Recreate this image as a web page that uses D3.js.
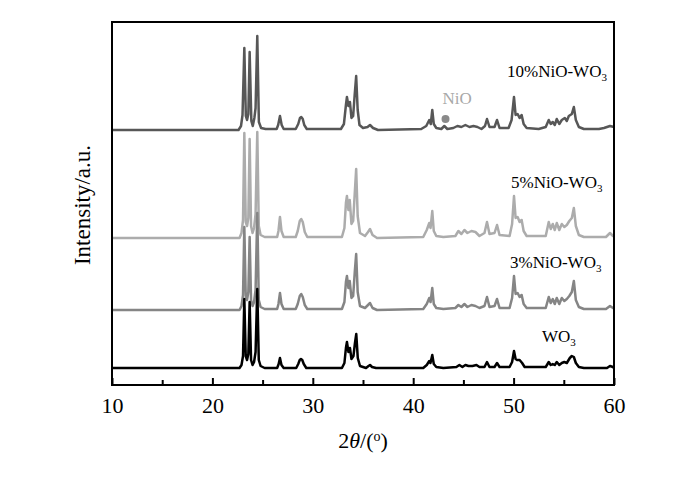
<!DOCTYPE html>
<html><head><meta charset="utf-8">
<script src="https://cdn.jsdelivr.net/npm/d3@7"></script>
<style>
html,body{margin:0;padding:0;background:#fff;}
svg{display:block;font-family:"Liberation Serif","Times New Roman",serif;}
</style></head>
<body><svg id="chart" width="700" height="481"></svg>
<script>
// ---- data (2θ in degrees, intensity in arbitrary units above each pattern's own baseline)
const seriesNames = ["WO3", "3%NiO-WO3", "5%NiO-WO3", "10%NiO-WO3"];
const seriesOffsets = [17, 75, 147, 255];
const seriesColors = ["#000000", "#858585", "#acacac", "#575757"];

const wo3 = [[10,0],[22.7,0],[22.9,3],[23.05,12],[23.18,69],[23.32,12],[23.45,8],[23.58,14],[23.71,66],[23.85,8],[24.0,3],[24.15,6],[24.3,16],[24.47,79],[24.62,8],[24.8,2],[25.2,0],[26.45,0],[26.6,4],[26.73,10],[26.88,3],[27.1,0],[28.35,0],[28.55,4],[28.7,8],[28.82,9],[28.95,8],[29.1,4],[29.35,0],[32.9,0],[33.15,5],[33.3,20],[33.4,26],[33.55,16],[33.7,20],[33.85,9],[34.05,12],[34.2,25],[34.33,34],[34.48,10],[34.7,2],[35.3,0],[35.55,2],[35.7,3],[35.9,1],[36.3,0],[41.0,0],[41.35,3],[41.6,7],[41.72,5],[41.9,13],[42.05,4],[42.3,1],[43.0,0],[44.3,1],[44.6,3],[44.9,1],[45.2,3],[45.5,2],[45.9,2],[46.3,3],[46.6,1],[47.1,1],[47.35,6],[47.6,1],[48.1,1],[48.35,5],[48.6,1],[49.6,1],[49.85,6],[50.04,17],[50.2,9],[50.35,8],[50.6,8],[50.85,5],[51.1,1],[53.2,1],[53.5,6],[53.7,3],[53.9,4],[54.1,3],[54.3,6],[54.55,3],[54.8,5],[55.05,6],[55.3,5],[55.6,10],[55.8,12],[56.0,11],[56.2,5],[56.5,1],[57,0],[59.3,0],[59.6,2],[59.9,1],[60,0]];

const nio3 = [[10,0],[22.7,0],[22.9,4],[23.05,15],[23.18,83],[23.32,14],[23.45,10],[23.58,18],[23.71,73],[23.85,10],[24.0,4],[24.15,8],[24.3,20],[24.47,97],[24.62,10],[24.8,3],[25.2,1],[26.45,1],[26.58,6],[26.73,17],[26.88,6],[27.1,1],[28.3,1],[28.5,6],[28.7,14],[28.85,16],[29.0,13],[29.2,5],[29.45,1],[32.9,1],[33.15,8],[33.3,28],[33.4,34],[33.55,22],[33.68,29],[33.85,12],[34.02,14],[34.18,38],[34.32,56],[34.47,18],[34.7,4],[35.2,2],[35.5,5],[35.7,7],[35.95,2],[36.4,0],[41.0,1],[41.35,6],[41.6,12],[41.73,8],[41.9,22],[42.05,6],[42.3,2],[43.0,1],[44.2,2],[44.5,5],[44.8,3],[45.1,6],[45.4,3],[45.8,5],[46.2,4],[46.6,2],[47.1,4],[47.35,13],[47.6,3],[48.1,4],[48.35,11],[48.6,2],[49.6,2],[49.85,12],[50.04,34],[50.2,16],[50.4,17],[50.6,13],[50.8,15],[51.0,6],[51.3,2],[53.2,2],[53.5,13],[53.7,7],[53.9,11],[54.1,6],[54.3,12],[54.55,6],[54.8,12],[55.05,9],[55.3,11],[55.55,14],[55.8,18],[56.0,29],[56.2,10],[56.5,3],[57,1],[59.2,1],[59.6,4],[59.9,2],[60,2]];

const nio5 = [[10,0],[22.7,0],[22.9,5],[23.05,18],[23.18,105],[23.32,16],[23.45,12],[23.58,20],[23.71,99],[23.85,12],[24.0,5],[24.15,10],[24.3,24],[24.47,106],[24.62,12],[24.8,3],[25.2,1],[26.45,1],[26.58,7],[26.73,21],[26.88,7],[27.1,1],[28.3,1],[28.5,7],[28.7,17],[28.85,19],[29.0,16],[29.2,6],[29.45,1],[32.9,1],[33.15,10],[33.3,35],[33.4,42],[33.55,28],[33.68,38],[33.85,14],[34.02,17],[34.18,45],[34.32,69],[34.47,22],[34.7,5],[35.2,2],[35.5,6],[35.7,9],[35.95,3],[36.4,0],[41.0,1],[41.35,8],[41.6,15],[41.73,10],[41.9,27],[42.05,7],[42.3,2],[43.0,1],[44.2,2],[44.5,7],[44.8,4],[45.1,8],[45.4,5],[45.8,7],[46.2,6],[46.6,2],[47.1,5],[47.35,16],[47.6,4],[48.1,5],[48.35,13],[48.6,3],[49.6,2],[49.85,14],[50.04,42],[50.2,20],[50.4,21],[50.6,16],[50.8,18],[51.0,7],[51.3,2],[53.2,2],[53.5,16],[53.7,9],[53.9,14],[54.1,8],[54.3,15],[54.55,8],[54.8,14],[55.05,11],[55.3,13],[55.55,17],[55.8,20],[56.0,30],[56.2,12],[56.5,3],[57,1],[59.2,1],[59.6,5],[59.9,2],[60,2]];

const nio10 = [[10,0],[22.6,0],[22.85,4],[23.0,15],[23.18,82],[23.33,14],[23.45,10],[23.58,16],[23.71,78],[23.88,9],[24.02,4],[24.18,12],[24.3,22],[24.47,94],[24.63,8],[24.85,2],[25.3,1],[26.4,1],[26.55,5],[26.73,14],[26.9,5],[27.1,1],[28.3,1],[28.55,6],[28.72,12],[28.85,13],[29.0,11],[29.15,5],[29.4,1],[32.8,1],[33.1,6],[33.3,25],[33.4,33],[33.55,24],[33.7,28],[33.85,12],[34.02,14],[34.17,35],[34.32,54],[34.47,20],[34.65,5],[35.0,2],[35.45,3],[35.7,5],[36.0,2],[36.5,0],[40.8,1],[41.3,4],[41.6,10],[41.75,6],[41.9,20],[42.05,6],[42.3,2],[42.8,1],[43.1,4],[43.4,1],[44.0,2],[44.4,4],[44.8,3],[45.2,5],[45.6,3],[46.0,4],[46.4,3],[46.8,1],[47.15,4],[47.35,11],[47.6,3],[48.1,3],[48.35,10],[48.6,2],[49.5,2],[49.8,10],[50.04,33],[50.2,15],[50.4,16],[50.6,12],[50.8,15],[51.0,6],[51.3,2],[52.5,1],[53.2,3],[53.5,10],[53.7,6],[53.9,8],[54.1,5],[54.3,11],[54.55,6],[54.8,10],[55.1,12],[55.3,9],[55.5,14],[55.8,16],[56.0,23],[56.2,10],[56.5,3],[57.0,1],[58.5,1],[59.0,2],[59.6,4],[60,3]];

const seriesData = [wo3, nio3, nio5, nio10];
const xTicksMajor = [10, 20, 30, 40, 50, 60];
const xTicksMinor = [15, 25, 35, 45, 55];
const nioMarker = [43.22, 11];   // 2θ, intensity above 10% baseline

// ---- layout
const svg = d3.select("#chart");
const L = 112, R = 614, T = 22, B = 385;
const x = d3.scaleLinear().domain([10, 60]).range([L, R]);
const y = d3.scaleLinear().domain([0, 363]).range([B, T]);

const line = d3.line().x(d => x(d[0])).y(d => y(d[1]));

const order = [3, 2, 1, 0];
order.forEach(i => {
  const off = seriesOffsets[i];
  svg.append("path")
    .datum(seriesData[i].map(p => [p[0], p[1] + off]))
    .attr("d", line)
    .attr("fill", "none")
    .attr("stroke", seriesColors[i])
    .attr("stroke-width", 2.5)
    .attr("stroke-linejoin", "round");
});

// NiO marker
svg.append("circle")
  .attr("cx", x(nioMarker[0]))
  .attr("cy", y(seriesOffsets[3] + nioMarker[1]))
  .attr("r", 4)
  .attr("fill", "#8a8a8a");
svg.append("text")
  .attr("x", x(nioMarker[0]) - 3)
  .attr("y", y(seriesOffsets[3] + nioMarker[1]) - 15)
  .attr("font-size", 17)
  .attr("fill", "#a8a8a8")
  .text("NiO");

// series labels
const labelPos = [[542, 342], [510, 268], [511, 188], [507, 77]];
seriesNames.forEach((name, i) => {
  const t = svg.append("text")
    .attr("x", labelPos[i][0]).attr("y", labelPos[i][1])
    .attr("font-size", 17).attr("fill", "#000");
  t.append("tspan").text(name.slice(0, -1));
  t.append("tspan").text(name.slice(-1)).attr("font-size", 11).attr("dy", 4);
});

// frame
svg.append("rect")
  .attr("x", L).attr("y", T).attr("width", R - L).attr("height", B - T)
  .attr("fill", "none").attr("stroke", "#000").attr("stroke-width", 2);

// bottom axis with inward ticks
const axisG = svg.append("g").attr("transform", `translate(0,${B})`);
axisG.call(d3.axisBottom(x).tickValues(xTicksMajor).tickSize(-7).tickFormat(d3.format("d")).tickPadding(12));
axisG.select(".domain").remove();
axisG.selectAll(".tick line").attr("stroke", "#000").attr("stroke-width", 2);
axisG.selectAll(".tick text")
  .attr("font-family", "'Liberation Serif','Times New Roman',serif")
  .attr("font-size", 22).attr("fill", "#000").attr("dy", "0.71em");
const minorG = svg.append("g").attr("transform", `translate(0,${B})`);
minorG.call(d3.axisBottom(x).tickValues(xTicksMinor).tickSize(-5).tickFormat(""));
minorG.select(".domain").remove();
minorG.selectAll(".tick line").attr("stroke", "#000").attr("stroke-width", 2);

// x title: 2θ/(o)
const xt = svg.append("text")
  .attr("x", (L + R) / 2).attr("y", 448)
  .attr("text-anchor", "middle").attr("font-size", 22).attr("fill", "#000");
xt.append("tspan").text("2");
xt.append("tspan").text("θ").attr("font-style", "italic");
xt.append("tspan").text("/(");
xt.append("tspan").text("o").attr("font-size", 14).attr("dy", -7);
xt.append("tspan").text(")").attr("dy", 7);

// y title
svg.append("text")
  .attr("transform", `translate(90,205) rotate(-90)`)
  .attr("text-anchor", "middle").attr("font-size", 23).attr("fill", "#000")
  .text("Intensity/a.u.");
</script>
</body></html>
